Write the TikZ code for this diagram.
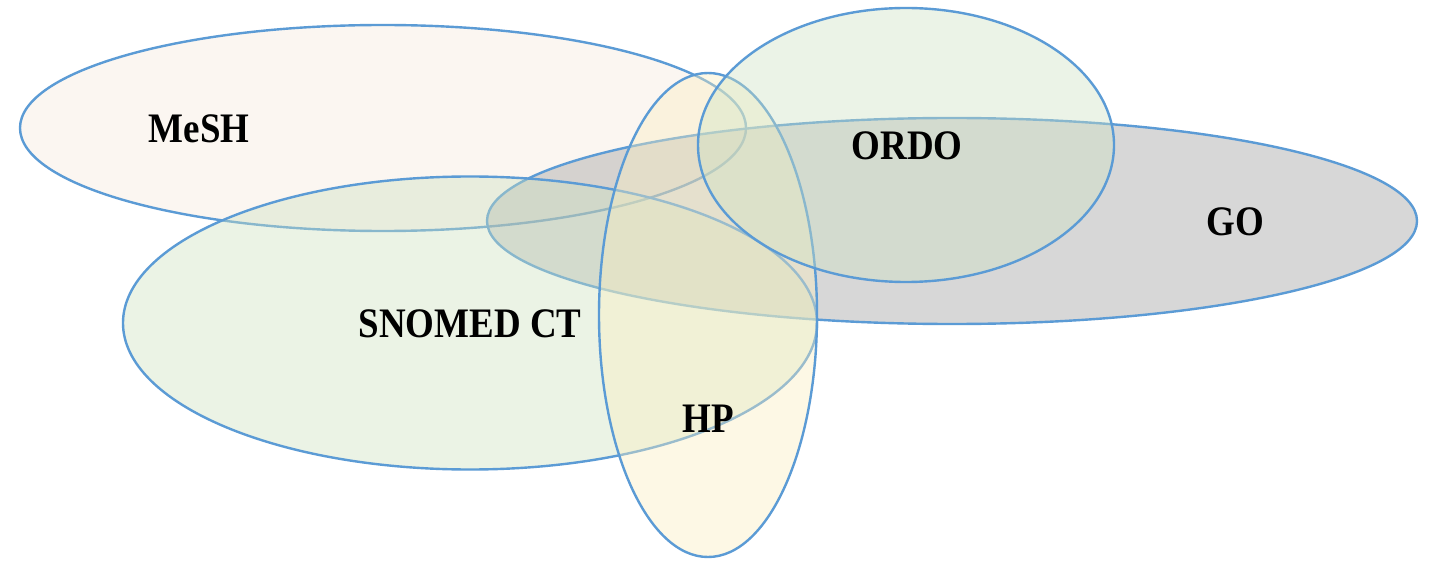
\documentclass[tikz,border=0pt]{standalone}
\usepackage{fontspec}
\setmainfont{Liberation Serif}[FakeStretch=0.88]
\usetikzlibrary{shapes.geometric}
\definecolor{edgeblue}{HTML}{5B9BD5}
\definecolor{meshfill}{HTML}{F5EADC}
\definecolor{gofill}{HTML}{9D9D9D}
\definecolor{snomedfill}{HTML}{CDE1C0}
\definecolor{hpfill}{HTML}{FAEEC0}
\definecolor{ordofill}{HTML}{CFE3C3}
\tikzset{
  setshape/.style={ellipse, draw=edgeblue, line width=2.4bp, fill opacity=0.4, draw opacity=1, inner sep=0pt, outer sep=0pt},
  setlabel/.style={font=\fontsize{42bp}{50bp}\selectfont\bfseries, text=black, inner sep=0pt}
}
\begin{document}
\begin{tikzpicture}[x=1bp,y={(0,-1bp)}]
\useasboundingbox[fill=white] (0,0) rectangle (1435,562);
\node[setshape, fill=meshfill, minimum width=726bp, minimum height=206bp] (mesh) at (383,128) {};
\node[setshape, fill=gofill, minimum width=930bp, minimum height=206bp] (go) at (952,221) {};
\node[setshape, fill=snomedfill, minimum width=694bp, minimum height=293bp] (snomed) at (470,323) {};
\node[setshape, fill=hpfill, minimum width=218bp, minimum height=484bp] (hp) at (708,315) {};
\node[setshape, fill=ordofill, minimum width=416bp, minimum height=274bp] (ordo) at (906,145) {};
\node[setlabel] (meshlabel) at (199,129) {MeSH};
\node[setlabel] (ordolabel) at (907,146) {ORDO};
\node[setlabel] (golabel) at (1235,222) {GO};
\node[setlabel] (snomedlabel) at (470,324) {SNOMED CT};
\node[setlabel] (hplabel) at (708,419) {HP};
\end{tikzpicture}
\end{document}
